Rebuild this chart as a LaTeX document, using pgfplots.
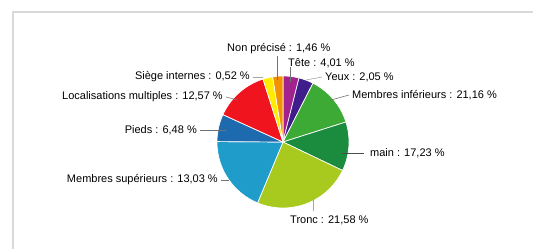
\documentclass[border=0pt]{standalone}
\usepackage{pgfplots}
\pgfplotsset{compat=1.18}
\usepackage{fontspec}
\setmainfont{Liberation Sans}
\definecolor{cOrange}{HTML}{F39200}
\definecolor{cYellow}{HTML}{FFEC00}
\definecolor{cTete}{HTML}{A2238E}
\definecolor{cYeux}{HTML}{3F1D8A}
\definecolor{cMinf}{HTML}{3DAA35}
\definecolor{cMain}{HTML}{1B8B3E}
\definecolor{cTronc}{HTML}{A8CA1E}
\definecolor{cMsup}{HTML}{1F9CC9}
\definecolor{cPieds}{HTML}{1D6BAE}
\definecolor{cRed}{HTML}{F0141E}
% slice: share of the circle (percent), colour
\newcommand\slice[2]{%
  \pgfmathsetmacro\sa{90-3.6*\cum}%
  \pgfmathsetmacro\cumnew{\cum+#1}%
  \pgfmathsetmacro\sb{90-3.6*\cumnew}%
  \xdef\cum{\cumnew}%
  \edef\tmp{\noexpand\addplot[fill=#2, draw=white, line width=0.7pt, line join=round, domain=\sb:\sa, samples=40, variable=\noexpand\t] ({cos(\noexpand\t)},{sin(\noexpand\t)}) -- (axis cs:0,0) -- cycle;}%
  \tmp}
\begin{document}
\begin{tikzpicture}[x=1pt,y=1pt]
\useasboundingbox (0,0) rectangle (533,249);
\fill[white] (0,0) rectangle (533,249);
\draw[black!15, line width=1.5pt] (13,0) -- (13,237) -- (533,237);
\begin{axis}[at={(217pt,41pt)}, anchor=south west, x=66pt, y=66pt,
  xmin=-1, xmax=1, ymin=-1, ymax=1, hide axis, clip=false]
\xdef\cum{0}
\slice{3.9}{cTete}
\slice{3.6}{cYeux}
\slice{12.6}{cMinf}
\slice{12.0}{cMain}
\slice{24.2}{cTronc}
\slice{18.8}{cMsup}
\slice{6.7}{cPieds}
\slice{13.3}{cRed}
\slice{2.4}{cYellow}
\slice{2.5}{cOrange}
\end{axis}
\begin{scope}[every node/.style={inner sep=0pt, font=\fontsize{11}{13}\selectfont}]
\draw[black!55, line width=0.6pt] (277,193) -- (277,169);
\draw[black!55, line width=0.6pt] (290,182) -- (290,167);
\draw[black!35, line width=0.6pt] (322,172) -- (306,169);
\draw[black!55, line width=0.6pt] (349,154) -- (331,149);
\draw[black!70, line width=0.6pt] (342,96) -- (364,96);
\draw[black!35, line width=0.6pt] (313,52) -- (313,38);
\draw[black!55, line width=0.6pt] (221,69) -- (229,69);
\draw[black!55, line width=0.6pt] (200,119) -- (226,119);
\draw[black!55, line width=0.6pt] (226,152) -- (238,149);
\draw[black!35, line width=0.6pt] (253,172) -- (263,172);
\node[anchor=west] at (227,200) {Non précisé : 1,46 \%};
\node[anchor=west] at (288,186) {Tête : 4,01 \%};
\node[anchor=west] at (325,172) {Yeux : 2,05 \%};
\node[anchor=west] at (352,154) {Membres inférieurs : 21,16 \%};
\node[anchor=west] at (370,96) {main : 17,23 \%};
\node[anchor=west] at (290,29) {Tronc : 21,58 \%};
\node[anchor=east] at (218,69) {Membres supérieurs : 13,03 \%};
\node[anchor=east] at (197,119) {Pieds : 6,48 \%};
\node[anchor=east] at (223,152) {Localisations multiples : 12,57 \%};
\node[anchor=east] at (250,172) {Siège internes : 0,52 \%};
\end{scope}
\end{tikzpicture}
\end{document}
